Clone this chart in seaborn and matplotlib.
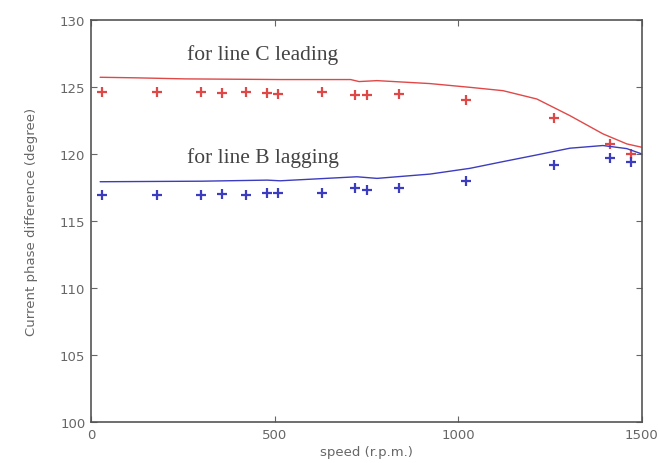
import matplotlib
matplotlib.use("Agg")
import matplotlib.pyplot as plt
import pandas as pd
import seaborn as sns

# measured points (speed in r.p.m.)
speed = [29, 181, 299, 356, 421, 478, 508, 628, 719, 751, 839, 1021, 1261, 1413, 1470]
line_c = [124.65, 124.65, 124.6, 124.57, 124.65, 124.55, 124.5, 124.6, 124.4, 124.38,
          124.45, 124.0, 122.7, 120.75, 120.0]
line_b = [116.94, 116.94, 116.96, 117.0, 116.94, 117.1, 117.1, 117.07, 117.44, 117.3,
          117.44, 117.96, 119.18, 119.73, 119.38]

# calculated curves
curve_speed_c = [25, 120, 256, 516, 707, 730, 779, 923, 1032, 1122, 1214, 1304, 1394, 1459, 1500]
curve_c = [125.72, 125.68, 125.6, 125.55, 125.55, 125.4, 125.47, 125.25, 124.97, 124.72,
           124.1, 122.86, 121.5, 120.75, 120.5]
curve_speed_b = [25, 300, 480, 515, 724, 779, 923, 1032, 1122, 1214, 1304, 1394, 1459, 1500]
curve_b = [117.93, 117.97, 118.05, 118.0, 118.3, 118.18, 118.5, 118.93, 119.43, 119.93,
           120.43, 120.63, 120.4, 120.0]

red = "#e04848"
blue = "#3c3cc0"
grey = "#666666"

sns.set_theme(style="ticks")
plt.rcParams["font.family"] = ["DejaVu Sans"]

df_pts = pd.DataFrame({"speed": speed, "C": line_c, "B": line_b})
df_c = pd.DataFrame({"speed": curve_speed_c, "val": curve_c})
df_b = pd.DataFrame({"speed": curve_speed_b, "val": curve_b})

fig = plt.figure(figsize=(6.59, 4.64), dpi=100)
ax = fig.add_axes([0.138, 0.088, 0.836, 0.867])

sns.lineplot(data=df_c, x="speed", y="val", color=red, linewidth=1.0, ax=ax)
sns.lineplot(data=df_b, x="speed", y="val", color=blue, linewidth=1.0, ax=ax)
sns.scatterplot(data=df_pts, x="speed", y="C", marker="+", s=45, linewidth=1.6,
                color=red, ax=ax)
sns.scatterplot(data=df_pts, x="speed", y="B", marker="+", s=45, linewidth=1.6,
                color=blue, ax=ax)

ax.text(262, 127.45, "for line C leading", family="Liberation Serif", fontsize=15.5,
        color="#444444", va="center")
ax.text(262, 119.8, "for line B lagging", family="Liberation Serif", fontsize=15.5,
        color="#444444", va="center")

ax.set_xlim(0, 1500)
ax.set_ylim(100, 130)
ax.set_xticks([0, 500, 1000, 1500])
ax.set_yticks(range(100, 131, 5))
ax.tick_params(direction="in", length=4, width=0.8, colors=grey, labelsize=9.5,
               top=True, right=True, pad=4)
for s in ax.spines.values():
    s.set_color("#555555")
    s.set_linewidth(1.2)

ax.set_xlabel("speed (r.p.m.)", fontsize=9.5, color=grey, labelpad=3)
ax.set_ylabel("Current phase difference (degree)", fontsize=9.5, color=grey, labelpad=16)

fig.savefig("out.png", dpi=100)
